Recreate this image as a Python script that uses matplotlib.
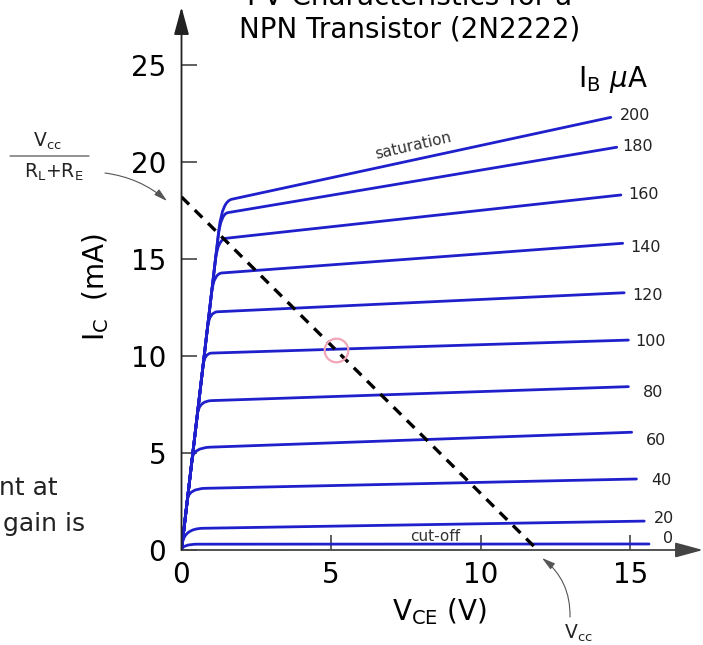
import numpy as np
import matplotlib.pyplot as plt
from matplotlib.path import Path
from matplotlib.patches import PathPatch

plt.rcParams['font.family'] = ['DejaVu Sans']
plt.rcParams['mathtext.default'] = 'regular'

# base current levels (uA)
ib_levels = [0, 20, 40, 60, 80, 100, 120, 140, 160, 180, 200]
# Ic where each curve leaves the steep (saturation) line
leave_ic = [0.0, 0.3, 2.6, 4.7, 7.0, 9.5, 11.5, 13.3, 15.0, 16.2, 16.6]
# start of the flat part
knee_v = [0.55, 0.72, 0.8, 0.95, 1.0, 1.0, 1.2, 1.35, 1.5, 1.55, 1.68]
knee_ic = [0.3, 1.12, 3.18, 5.3, 7.7, 10.15, 12.28, 14.28, 16.07, 17.39, 18.08]
# end of each curve
end_v = [15.62, 15.46, 15.2, 15.04, 14.93, 14.93, 14.79, 14.74, 14.68, 14.54, 14.34]
end_ic = [0.31, 1.49, 3.66, 6.07, 8.42, 10.82, 13.26, 15.81, 18.3, 20.76, 22.3]
sat_slope = 13.2  # mA per V near the origin

# curve labels
label_v = [16.08, 15.79, 15.69, 15.52, 15.41, 15.16, 15.07, 15.01, 14.91, 14.74, 14.63]
label_ic = [0.57, 1.63, 3.56, 5.62, 8.11, 10.74, 13.11, 15.58, 18.30, 20.82, 22.39]

# load line and operating point
vcc = 11.9
ic_max = 18.2
q_v, q_ic = 5.17, 10.3

xticks = [0, 5, 10, 15]
yticks = [0, 5, 10, 15, 20, 25]

blue = '#1f1fcc'
grey = '#444444'

fig = plt.figure(figsize=(7.03, 6.45), dpi=100)
ax = fig.add_axes([181.5 / 703, 95 / 645, 521.5 / 703, 543 / 645])
ax.set_xlim(0, 521.5 / 29.93)
ax.set_ylim(0, 543 / 19.4)

for i in range(len(ib_levels)):
    flat = (end_ic[i] - knee_ic[i]) / (end_v[i] - knee_v[i])
    cv = knee_ic[i] / sat_slope
    cic = knee_ic[i] - flat * (knee_v[i] - cv)
    verts = [(0, 0), (leave_ic[i] / sat_slope, leave_ic[i]), (cv, cic),
             (knee_v[i], knee_ic[i]), (end_v[i], end_ic[i])]
    codes = [Path.MOVETO, Path.LINETO, Path.CURVE3, Path.CURVE3, Path.LINETO]
    ax.add_patch(PathPatch(Path(verts, codes), fill=False, edgecolor=blue,
                           lw=2.0, joinstyle='round', capstyle='round', zorder=3))
    ax.text(label_v[i], label_ic[i], str(ib_levels[i]), fontsize=11.5,
            ha='left', va='center', color='#222222')

# load line
ax.plot([0, vcc], [ic_max, 0], color='k', lw=2.4, dashes=(3.2, 2.4), zorder=4)
ax.plot(q_v, q_ic, 'o', ms=17, mfc='none', mec='#f2a6b8', mew=1.6, zorder=5)

ax.text(7.73, 20.82, 'saturation', rotation=13, fontsize=11, ha='center',
        va='center', color='#333333', rotation_mode='anchor')
ax.text(8.49, 0.69, 'cut-off', fontsize=11, ha='center', va='center', color='#333333')
ax.text(14.43, 23.88, r'I$_B$ $\mathit{\mu}$A', fontsize=20, ha='center', va='baseline')

# axes with arrow heads
for s in ax.spines.values():
    s.set_visible(False)
ax.annotate('', xy=(1, 0), xycoords='axes fraction', xytext=(0, 0),
            arrowprops=dict(arrowstyle='-|>,head_length=1.7,head_width=0.46',
                            color=grey, lw=1.3, shrinkA=0, shrinkB=0),
            annotation_clip=False)
ax.annotate('', xy=(0, 1), xycoords='axes fraction', xytext=(0, 0),
            arrowprops=dict(arrowstyle='-|>,head_length=1.7,head_width=0.46',
                            color='#222222', lw=1.3, shrinkA=0, shrinkB=0),
            annotation_clip=False)

ax.set_xticks(xticks)
ax.set_yticks(yticks)
ax.tick_params(direction='in', length=11, width=1.2, color=grey, labelsize=20)
ax.tick_params(axis='x', pad=8)
ax.tick_params(axis='y', pad=11)

fig.text(96 / 703, 1 - 287.5 / 645, r'I$_C$  (mA)', rotation=90, fontsize=20,
         ha='center', va='center')
fig.text(439 / 703, 1 - 612 / 645, r'V$_{CE}$ (V)', fontsize=20, ha='center', va='center')

fig.text(409.5 / 703, 1 - 43.5 / 645, 'I-V Characteristics for a\nNPN Transistor (2N2222)',
         fontsize=20, ha='center', va='bottom', linespacing=1.2)

# Vcc/(RL+RE) marker on the left
ax.annotate(r'V$_{cc}$', xy=(47, 645 - 141), xycoords='figure pixels',
            fontsize=13.5, ha='center', va='center', color='#222222')
ax.annotate('', xy=(89, 645 - 156), xycoords='figure pixels', xytext=(10, 645 - 156),
            arrowprops=dict(arrowstyle='-', color='#555555', lw=0.9, shrinkA=0, shrinkB=0))
ax.annotate(r'R$_L$+R$_E$', xy=(53.5, 645 - 172), xycoords='figure pixels',
            fontsize=13.5, ha='center', va='center', color='#222222')
ax.annotate('', xy=(167, 645 - 201), xycoords='figure pixels', xytext=(105, 645 - 173),
            arrowprops=dict(arrowstyle='-|>,head_length=0.8,head_width=0.22', color='#555555',
                            lw=0.8, shrinkA=0, shrinkB=0, connectionstyle='arc3,rad=-0.15'))

# Vcc marker at the bottom
ax.annotate(r'V$_{cc}$', xy=(578, 645 - 633), xycoords='figure pixels',
            fontsize=13.5, ha='center', va='center', color='#222222')
ax.annotate('', xy=(542, 645 - 558), xycoords='figure pixels', xytext=(570, 645 - 617),
            arrowprops=dict(arrowstyle='-|>,head_length=0.8,head_width=0.22', color='#555555',
                            lw=0.8, shrinkA=0, shrinkB=0, connectionstyle='arc3,rad=0.25'))

# text cut off from the neighbouring page
fig.text(58 / 703, 1 - 495 / 645, 'nt at', fontsize=18, ha='right', va='baseline', color='#222222')
fig.text(85 / 703, 1 - 531 / 645, 'gain is', fontsize=18, ha='right', va='baseline', color='#222222')

fig.savefig('out.png', dpi=100)
